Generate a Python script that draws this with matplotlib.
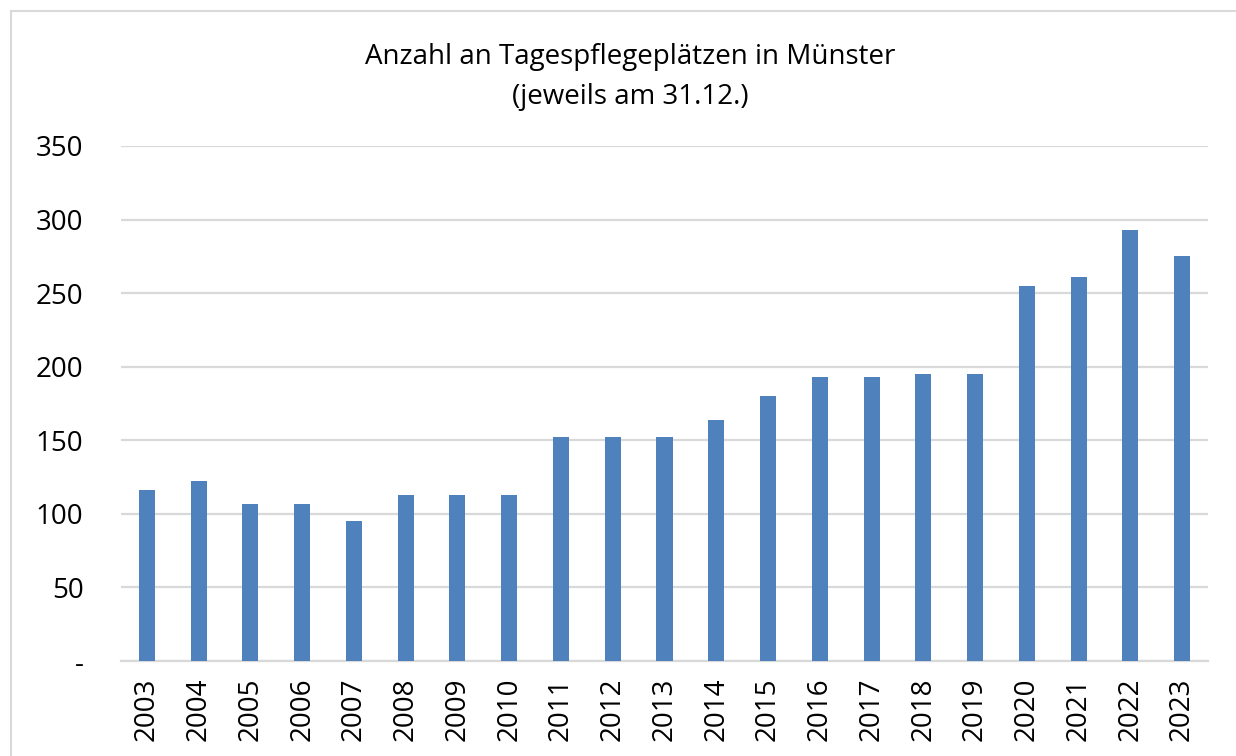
import matplotlib
matplotlib.use('Agg')
import matplotlib.pyplot as plt
from matplotlib.patches import Rectangle
from matplotlib.ticker import FuncFormatter

# Tagespflegeplaetze in Muenster, jeweils am 31.12.
years = [str(y) for y in range(2003, 2024)]
places = [116, 122, 107, 107, 95, 113, 113, 113, 152, 152, 152,
          164, 180, 193, 193, 195, 195, 255, 261, 293, 275]
yticks = [0, 50, 100, 150, 200, 250, 300, 350]

plt.rcParams['font.family'] = ['Open Sans', 'DejaVu Sans']

fig = plt.figure(figsize=(12.36, 7.56), dpi=100)
ax = fig.add_axes([121 / 1236, 1 - 661 / 756, (1208 - 121) / 1236, (661 - 146) / 756])

x = range(len(years))
ax.bar(x, places, width=0.31, color='#4f81bd', zorder=3)

ax.set_xlim(-0.5, len(years) - 0.5)
ax.set_ylim(0, 350)
ax.set_yticks(yticks)
ax.yaxis.set_major_formatter(FuncFormatter(lambda v, p: '-' if v == 0 else f'{int(v)}'))
ax.set_xticks(list(x))
ax.set_xticklabels(years, rotation=90)

ax.grid(axis='y', color='#d9d9d9', linewidth=1.6, zorder=0)
for s in ['top', 'right', 'left']:
    ax.spines[s].set_visible(False)
ax.spines['bottom'].set_color('#d9d9d9')
ax.spines['bottom'].set_linewidth(1.6)
ax.tick_params(axis='both', length=0, labelsize=20, colors='black')
ax.tick_params(axis='y', pad=27)
ax.tick_params(axis='x', pad=12)

fig.text(630 / 1236, 1 - 57 / 756, 'Anzahl an Tagespflegeplätzen in Münster',
         ha='center', va='center', fontsize=20)
fig.text(630 / 1236, 1 - 97 / 756, '(jeweils am 31.12.)',
         ha='center', va='center', fontsize=20)

# heller Rahmen um das Diagramm
fig.patches.append(Rectangle((11 / 1236, -0.05), 1.1, 1 - 11 / 756 + 0.05,
                             transform=fig.transFigure, fill=False,
                             edgecolor='#d9d9d9', linewidth=1.5))

fig.savefig('out.png', dpi=100)
plt.close(fig)
